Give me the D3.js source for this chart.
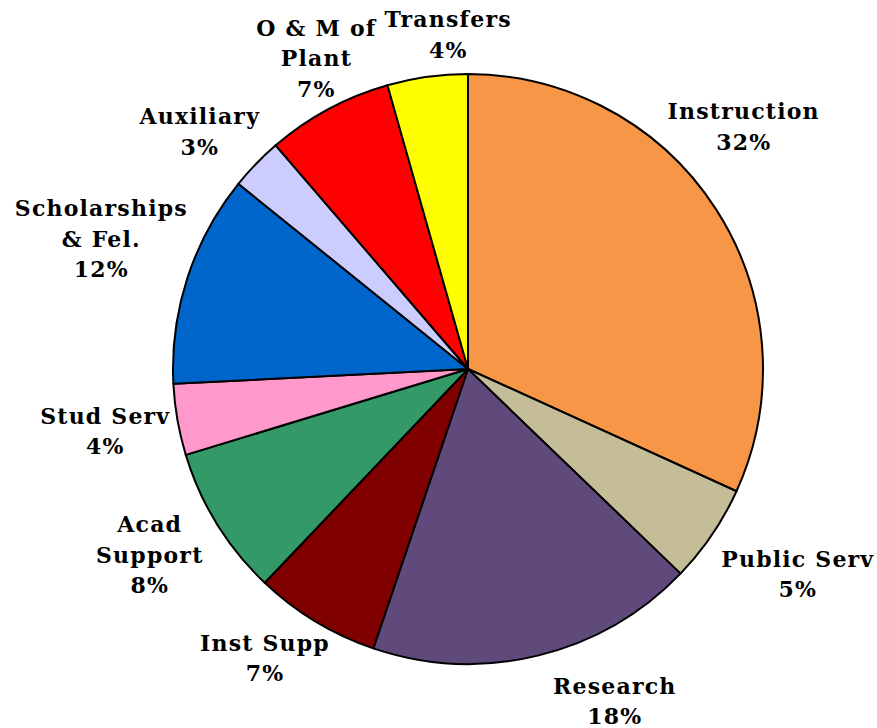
<!DOCTYPE html>
<html>
<head>
<meta charset="utf-8">
<script src="https://cdn.jsdelivr.net/npm/d3@7"></script>
<style>
  body { margin: 0; background: #ffffff; }
  svg text { font-family: "DejaVu Serif", serif; font-weight: bold; font-size: 22px; letter-spacing: 1.2px; fill: #000; }
</style>
</head>
<body>
<svg id="chart" width="877" height="728"></svg>
<script>
// slice data, clockwise from 12 o'clock
var categories = ["Instruction", "Public Serv", "Research", "Inst Supp", "Acad Support",
                  "Stud Serv", "Scholarships & Fel.", "Auxiliary", "O & M of Plant", "Transfers"];
var values = [31.8, 5.4, 18.0, 6.9, 8.2, 3.9, 11.6, 2.9, 6.9, 4.4];
var colors = ["#f79646", "#c4bd97", "#604a7b", "#800000", "#339966",
              "#ff99cc", "#0066cc", "#ccccff", "#ff0000", "#ffff00"];
// how each label breaks into lines (the % goes on its own last line)
var labelLines = [["Instruction"], ["Public Serv"], ["Research"], ["Inst Supp"], ["Acad", "Support"],
                  ["Stud Serv"], ["Scholarships", "& Fel."], ["Auxiliary"], ["O & M of", "Plant"], ["Transfers"]];

// label nudges off the outer centroid (excel-ish placement)
var nudges = [[-22, -43], [37, 14], [63, -4], [-20, -6], [-17, 8],
              [-14, 9], [-30, -13], [-14, 17], [16, 9], [29, 24]];

var cx = 468, cy = 369, r = 295, lineH = 30.5;
var total = d3.sum(values);

var svg = d3.select("#chart");
var g = svg.append("g").attr("transform", "translate(" + cx + "," + cy + ")");

var pie = d3.pie().sort(null).value(function(d) { return d; });
var arc = d3.arc().innerRadius(0).outerRadius(r);
var labelArc = d3.arc().innerRadius(r * 1.2).outerRadius(r * 1.2);

var arcs = pie(values);

g.selectAll("path.slice")
  .data(arcs)
  .enter().append("path")
  .attr("class", "slice")
  .attr("d", arc)
  .attr("fill", function(d, i) { return colors[i]; })
  .attr("stroke", "#000")
  .attr("stroke-width", 2)
  .attr("stroke-linejoin", "round");

var labels = g.selectAll("text.lbl")
  .data(arcs)
  .enter().append("text")
  .attr("class", "lbl")
  .attr("text-anchor", "middle")
  .each(function(d, i) {
    var c = labelArc.centroid(d);
    var x = c[0] + nudges[i][0], y = c[1] + nudges[i][1];
    var lines = labelLines[i].concat([Math.round(d.value / total * 100) + "%"]);
    var n = lines.length;
    var t = d3.select(this);
    lines.forEach(function(s, k) {
      t.append("tspan")
        .attr("x", x)
        .attr("y", y + (k - (n - 1) / 2) * lineH)
        .text(s);
    });
  });
</script>
</body>
</html>
